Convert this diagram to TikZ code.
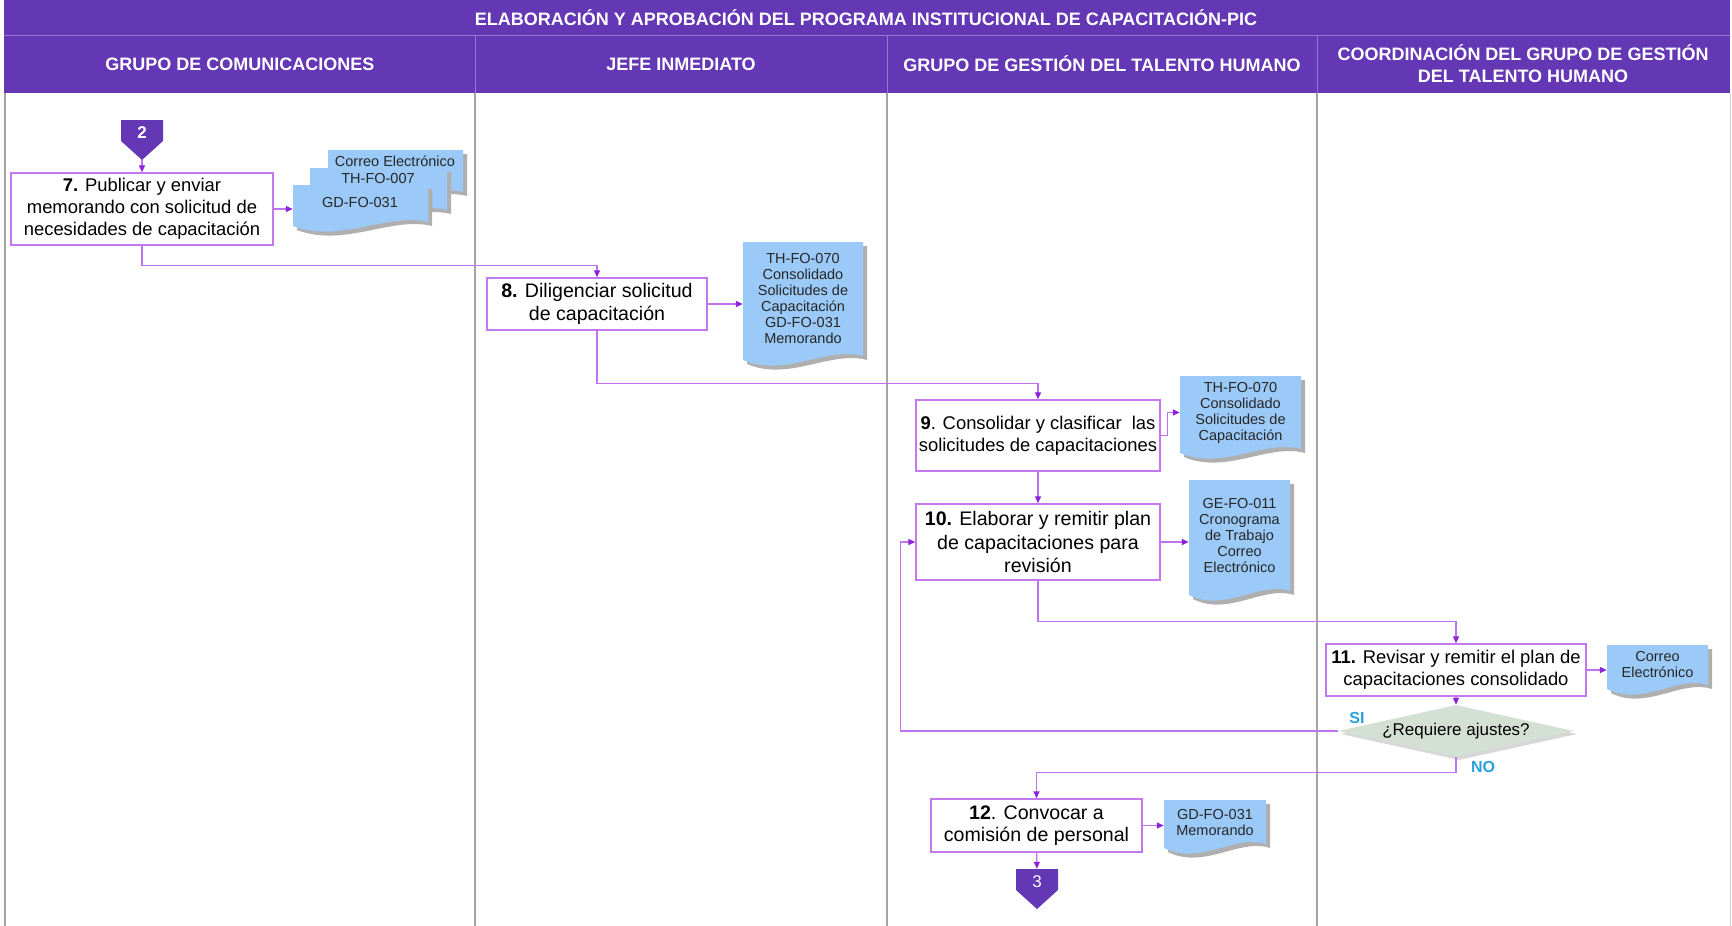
\documentclass[tikz,border=0pt]{standalone}
\usepackage{fontspec}
\setmainfont{Liberation Sans}
\usepackage{tikz}
\usetikzlibrary{arrows.meta,shapes.geometric,shadows}

\definecolor{hdr}{RGB}{100,55,180}
\definecolor{hdrline}{RGB}{150,120,205}
\definecolor{lanegray}{RGB}{165,165,165}
\definecolor{boxcol}{RGB}{195,120,240}
\definecolor{flowcol}{RGB}{190,115,240}
\definecolor{tipcol}{RGB}{140,35,225}
\definecolor{docfill}{RGB}{155,202,248}
\definecolor{shadowgray}{RGB}{175,175,175}
\definecolor{decfill}{RGB}{213,224,213}
\definecolor{anscol}{RGB}{40,160,220}

\newcommand{\docu}[6]{%
	\pgfmathsetmacro{\wavel}{#2+0.35*(#4-#2)}%
	\pgfmathsetmacro{\waver}{#4-0.3*(#4-#2)}%
	\fill[shadowgray] (#2+4,#3+4) -- (#4+4,#3+4) -- (#4+4,#5+4) .. controls (\waver+4,#5-6) and (\wavel+4,#5+26) .. (#2+4,#5+8) -- cycle;
	\fill[docfill] (#2,#3) -- (#4,#3) -- (#4,#5) .. controls (\waver,#5-10) and (\wavel,#5+22) .. (#2,#5+4) -- cycle;
	\node[docbox,minimum width=#4-#2,minimum height=#5-#3] (#1) at ({(#2+#4)/2},{(#3+#5)/2}) {#6};
}
\newcommand{\offpage}[4]{%
	\fill[hdr] (#2-21,#3) -- (#2+21,#3) -- (#2+21,#3+21) -- (#2,#3+40) -- (#2-21,#3+21) -- cycle;
	\node[conn] (#1) at (#2,#3+13) {#4};
	\coordinate (#1tip) at (#2,#3+40);
}

\begin{document}
\begin{tikzpicture}[x=1pt,y=-1pt]
	\tikzstyle{lanehead}=[text=white,font=\bfseries\fontsize{18}{22}\selectfont,align=center]
	\tikzstyle{proc}=[draw=boxcol,line width=1.4pt,fill=white,align=center,inner sep=0pt,font=\fontsize{18.4}{22}\selectfont]
	\tikzstyle{docbox}=[inner sep=0pt,align=center,text=black!85,font=\fontsize{14.5}{16}\selectfont]
	\tikzstyle{conn}=[inner sep=0pt,minimum width=42,minimum height=26,text=white,font=\fontsize{17}{20}\selectfont]
	\tikzstyle{flow}=[draw=flowcol,line width=1.3pt,-{Triangle[length=7pt,width=6pt,color=tipcol]}]
	\tikzstyle{ans}=[text=anscol,font=\bfseries\fontsize{16}{18}\selectfont]
	\tikzstyle{decision}=[diamond,aspect=4.5,inner sep=0pt,fill=decfill,minimum width=236,minimum height=52,font=\fontsize{17}{20}\selectfont,drop shadow={shadow xshift=3pt,shadow yshift=-3pt,fill=shadowgray}]

	\useasboundingbox (0,0) rectangle (1732,926);
	\fill[hdr] (4,0) rectangle (1730,93);
	\draw[hdrline,line width=1pt] (4,35) -- (1730,35);
	\foreach \x in {475,887,1317}{
		\draw[hdrline,line width=1pt] (\x,35) -- (\x,93);
		\draw[lanegray,line width=1.5pt] (\x,93) -- (\x,926);
	};
	\draw[lanegray,line width=1.5pt] (5,93) -- (5,926);
	\draw[lanegray!50,line width=1pt] (1730,93) -- (1730,926);

	\node[lanehead] (ttl) at (866,18) {ELABORACIÓN Y APROBACIÓN DEL PROGRAMA INSTITUCIONAL DE CAPACITACIÓN-PIC};
	\foreach \x/\i/\t in {240/1/GRUPO DE COMUNICACIONES,681/2/JEFE INMEDIATO,1102/3/GRUPO DE GESTIÓN DEL TALENTO HUMANO,1523/4/COORDINACIÓN DEL GRUPO DE GESTIÓN\\DEL TALENTO HUMANO}{
		\node[lanehead] (h\i) at (\x,64) {\t};
	};

	\offpage{c2}{142}{120}{\textbf{2}}
	\node[proc,minimum width=262,minimum height=72] (b7) at (142,209) {\textbf{7.} Publicar y enviar\\memorando con solicitud de\\necesidades de capacitación};
	\docu{d7a}{328}{150}{463}{192}{}
	\node[docbox] (t7a) at (395,161) {Correo Electrónico};
	\docu{d7b}{310}{168}{447}{210}{}
	\node[docbox] (t7b) at (378,179) {TH-FO-007};
	\docu{d7c}{293}{185}{428}{222}{}
	\node[docbox] (t7c) at (360,203) {GD-FO-031};

	\node[proc,minimum width=220,minimum height=52,font=\fontsize{19.6}{23.5}\selectfont] (b8) at (597,304) {\textbf{8.} Diligenciar solicitud\\de capacitación};
	\docu{d8}{743}{242}{863}{356}{TH-FO-070\\Consolidado\\Solicitudes de\\Capacitación\\GD-FO-031\\Memorando}

	\node[proc,minimum width=244,minimum height=71] (b9) at (1038,435.5) {\textbf{9}. Consolidar y clasificar \ las\\solicitudes de capacitaciones};
	\docu{d9}{1180}{376}{1301}{449}{TH-FO-070\\Consolidado\\Solicitudes de\\Capacitación}

	\node[proc,minimum width=244,minimum height=76,font=\fontsize{19.6}{23.5}\selectfont] (b10) at (1038,542) {\textbf{10.} Elaborar y remitir plan\\de capacitaciones para\\revisión};
	\docu{d10}{1189}{480}{1290}{591}{GE-FO-011\\Cronograma\\de Trabajo\\Correo\\Electrónico}

	\node[proc,minimum width=260,minimum height=52] (b11) at (1456,670) {\textbf{11.} Revisar y remitir el plan de\\capacitaciones consolidado};
	\docu{d11}{1607}{645}{1708}{685}{Correo\\Electrónico}

	\node[decision] (q) at (1456,731) {¿Requiere ajustes?};
	\node[ans] (si) at (1357,718) {SI};
	\node[ans] (no) at (1483,767) {NO};

	\node[proc,minimum width=211,minimum height=53,font=\fontsize{19.6}{22}\selectfont] (b12) at (1036.5,825.5) {\textbf{12}. Convocar a\\comisión de personal};
	\docu{d12}{1164}{800}{1266}{844}{GD-FO-031\\Memorando}
	\offpage{c3}{1037}{869}{3}

	\draw[flow] (c2tip) -- (b7);
	\draw[flow] (b7) -- (b7 -| d7c.west);
	\draw[flow] (b7.south) -- ++(0,20) -| (b8.north);
	\draw[flow] (b8) -- (b8 -| d8.west);
	\draw[flow] (b8.south) -- ++(0,53) -| (b9.north);
	\draw[flow] (b9.east) -- ++(7,0) |- (d9.west);
	\draw[flow] (b9) -- (b10);
	\draw[flow] (b10) -- (b10 -| d10.west);
	\draw[flow] (b10.south) -- ++(0,41) -| (b11.north);
	\draw[flow] (b11) -- (b11 -| d11.west);
	\draw[flow] (b11) -- (q);
	\draw[flow] (q.west) -- ++(-437,0) |- (b10.west);
	\draw[flow] (q.south) -- ++(0,15) -| (b12.north);
	\draw[flow] (b12) -- (b12 -| d12.west);
	\draw[flow] (b12) -- (c3);
\end{tikzpicture}
\end{document}
